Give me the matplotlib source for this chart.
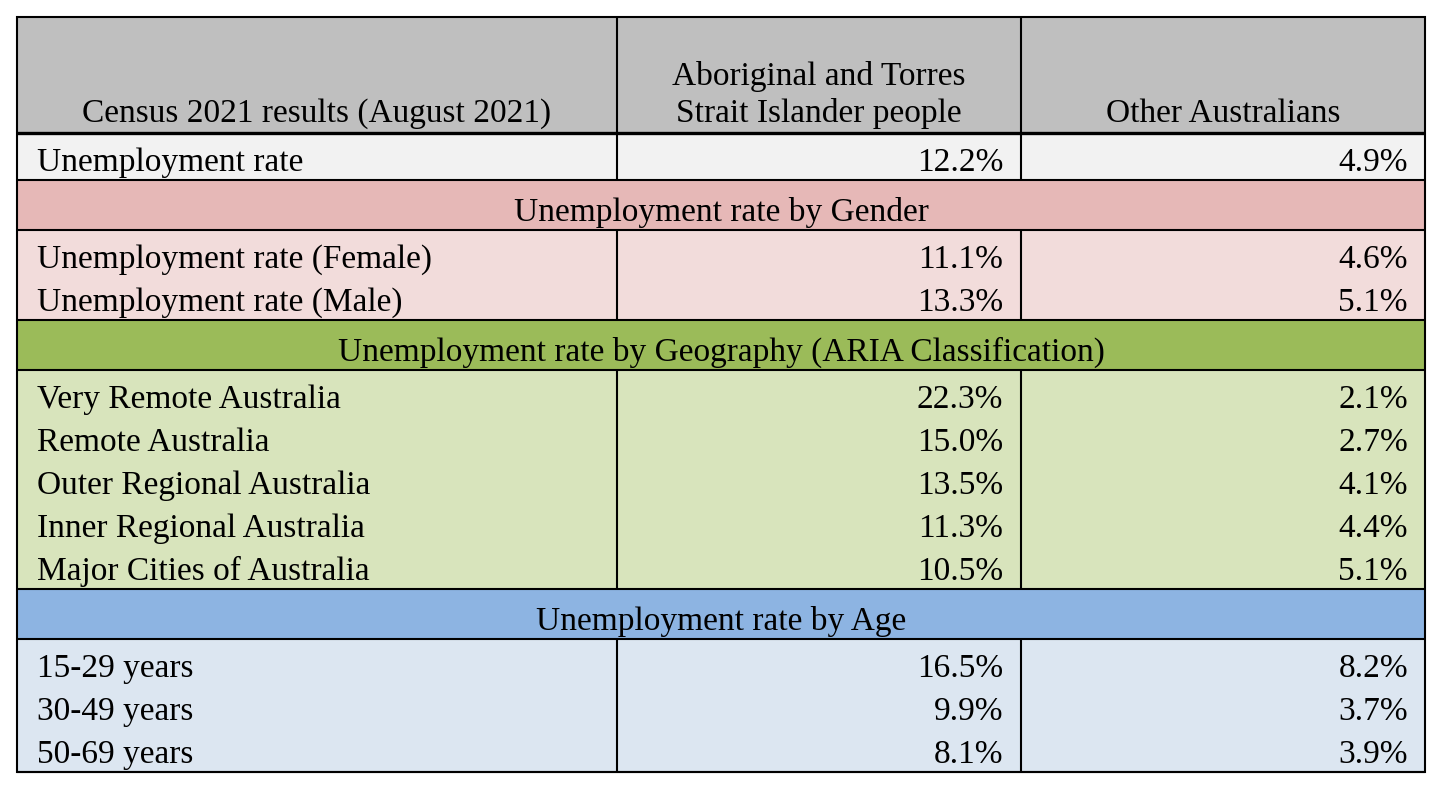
import matplotlib.pyplot as plt
from matplotlib.patches import Rectangle

plt.rcParams['font.family'] = ['Liberation Serif', 'DejaVu Serif']

# table content
headers = ['Census 2021 results (August 2021)',
           'Aboriginal and Torres\nStrait Islander people',
           'Other Australians']

overall_labels = ['Unemployment rate']
overall_indig = [12.2]
overall_other = [4.9]

gender_title = 'Unemployment rate by Gender'
gender_labels = ['Unemployment rate (Female)', 'Unemployment rate (Male)']
gender_indig = [11.1, 13.3]
gender_other = [4.6, 5.1]

geo_title = 'Unemployment rate by Geography (ARIA Classification)'
geo_labels = ['Very Remote Australia', 'Remote Australia', 'Outer Regional Australia',
              'Inner Regional Australia', 'Major Cities of Australia']
geo_indig = [22.3, 15.0, 13.5, 11.3, 10.5]
geo_other = [2.1, 2.7, 4.1, 4.4, 5.1]

age_title = 'Unemployment rate by Age'
age_labels = ['15-29 years', '30-49 years', '50-69 years']
age_indig = [16.5, 9.9, 8.1]
age_other = [8.2, 3.7, 3.9]

# (title, title colour, row colour, labels, col2, col3)
blocks = [
    (None, None, '#F2F2F2', overall_labels, overall_indig, overall_other),
    (gender_title, '#E6B8B7', '#F2DCDB', gender_labels, gender_indig, gender_other),
    (geo_title, '#9BBB59', '#D8E4BC', geo_labels, geo_indig, geo_other),
    (age_title, '#8DB4E2', '#DCE6F1', age_labels, age_indig, age_other),
]

W, H = 1448, 798
fig = plt.figure(figsize=(W / 100, H / 100), dpi=100)
ax = fig.add_axes([0, 0, 1, 1])
ax.set_xlim(0, W)
ax.set_ylim(H, 0)
ax.axis('off')

col_x = [17, 617, 1021, 1425]
top = 17
head_bot = 133
row_h = 43
pad = 4
sec_h = 50
fs = 24
lw = 1.5

# header
ax.add_patch(Rectangle((col_x[0], top), col_x[3] - col_x[0], head_bot - top,
                       facecolor='#BFBFBF', edgecolor='none'))
for i, h in enumerate(headers):
    cx = (col_x[i] + col_x[i + 1]) / 2
    lines = h.split('\n')
    for j, line in enumerate(reversed(lines)):
        ax.text(cx, 122 - j * 37, line, ha='center', va='baseline', fontsize=fs)
ax.vlines(col_x[1:3], top, head_bot, color='black', lw=lw)

y = head_bot
for title, tcol, rcol, labels, v1, v2 in blocks:
    if title:
        ax.add_patch(Rectangle((col_x[0], y), col_x[3] - col_x[0], sec_h,
                               facecolor=tcol, edgecolor='none'))
        ax.text((col_x[0] + col_x[3]) / 2, y + 41, title, ha='center',
                va='baseline', fontsize=fs)
        y += sec_h
        ax.hlines(y, col_x[0], col_x[3], color='black', lw=lw)
    bh = len(labels) * row_h + pad
    ax.add_patch(Rectangle((col_x[0], y), col_x[3] - col_x[0], bh,
                           facecolor=rcol, edgecolor='none'))
    for i in range(len(labels)):
        by = y + 38 + i * row_h
        ax.text(col_x[0] + 20, by, labels[i], ha='left', va='baseline', fontsize=fs)
        ax.text(col_x[2] - 18, by, f'{v1[i]:.1f}%', ha='right', va='baseline', fontsize=fs)
        ax.text(col_x[3] - 17, by, f'{v2[i]:.1f}%', ha='right', va='baseline', fontsize=fs)
    ax.vlines(col_x[1:3], y, y + bh, color='black', lw=lw)
    y += bh
    ax.hlines(y, col_x[0], col_x[3], color='black', lw=lw)

ax.hlines(head_bot, col_x[0], col_x[3], color='black', lw=2.4)
ax.add_patch(Rectangle((col_x[0], top), col_x[3] - col_x[0], y - top,
                       facecolor='none', edgecolor='black', lw=lw))

fig.savefig('out.png', dpi=100, facecolor='white')
